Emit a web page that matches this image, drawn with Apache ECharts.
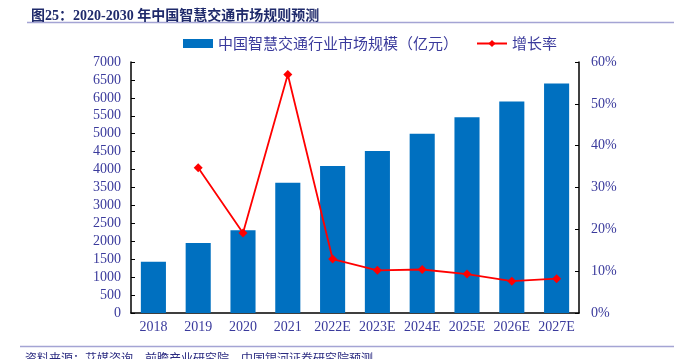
<!DOCTYPE html>
<html><head><meta charset="utf-8">
<script src="https://cdn.jsdelivr.net/npm/echarts@6/dist/echarts.min.js"></script>
<style>html,body{margin:0;padding:0;background:#fff}#c{width:674px;height:359px}</style>
</head><body><div id="c"></div>
<script>
const categories = ['2018','2019','2020','2021','2022E','2023E','2024E','2025E','2026E','2027E'];
const marketSize = [1430, 1950, 2310, 3630, 4100, 4520, 5000, 5460, 5900, 6400];
const growthRate = [null, 34.7, 19.1, 57.0, 12.9, 10.2, 10.4, 9.3, 7.6, 8.2];
const leftTicks = {min: 0, max: 7000, interval: 500};
const rightTicks = {min: 0, max: 60, interval: 10};
const titleText = '图25：2020-2030 年中国智慧交通市场规则预测';
const sourceText = '资料来源：艾媒咨询，前瞻产业研究院，中国银河证券研究院预测';
const seriesNames = ['中国智慧交通行业市场规模（亿元）', '增长率'];

const txt = '#3a3a9c';
const serif = "'Liberation Serif','Times New Roman','Noto Sans CJK SC',serif";
const chart = echarts.init(document.getElementById('c'));
chart.setOption({
  animation: false,
  title: [
    {text: titleText, left: 26, top: 4, textStyle: {fontSize: 14, fontWeight: 'bold', color: '#1f2a6b', fontFamily: "'Liberation Serif','Noto Sans CJK SC',serif"}},
    {text: sourceText, left: 20, top: 347, textStyle: {fontSize: 12, fontWeight: 'normal', color: '#2a2a80', fontFamily: "'Noto Sans CJK SC',sans-serif"}}
  ],
  graphic: [
    {type: 'line', shape: {x1: 27, y1: 22.5, x2: 674, y2: 22.5}, style: {stroke: '#a4a4d4', lineWidth: 1.5}},
    {type: 'line', shape: {x1: 20, y1: 346.5, x2: 674, y2: 346.5}, style: {stroke: '#a4a4d4', lineWidth: 1.5}}
  ],
  legend: {
    left: 178, top: 31, itemGap: 18, itemWidth: 30, itemHeight: 9,
    textStyle: {fontSize: 15, color: txt, fontFamily: "'Noto Sans CJK SC',sans-serif"},
    data: [
      {name: seriesNames[0], icon: 'rect'},
      {name: seriesNames[1]}
    ]
  },
  grid: {left: 131, right: 95, top: 62, bottom: 46},
  xAxis: {
    type: 'category', data: categories,
    axisLine: {lineStyle: {color: '#000', width: 1.5}},
    axisTick: {inside: true, length: 4, lineStyle: {color: '#000'}},
    axisLabel: {color: txt, fontSize: 14, fontFamily: serif, margin: 7, interval: 0, hideOverlap: false}
  },
  yAxis: [
    {type: 'value', min: leftTicks.min, max: leftTicks.max, interval: leftTicks.interval,
     splitLine: {show: false},
     axisLine: {show: true, lineStyle: {color: '#000', width: 1.5}},
     axisTick: {show: true, inside: true, length: 4, lineStyle: {color: '#000'}},
     axisLabel: {color: txt, fontSize: 14, fontFamily: serif, margin: 10, formatter: v => String(v)}},
    {type: 'value', min: rightTicks.min, max: rightTicks.max, interval: rightTicks.interval,
     splitLine: {show: false},
     axisLine: {show: true, lineStyle: {color: '#000', width: 1.5}},
     axisTick: {show: true, inside: true, length: 4, lineStyle: {color: '#000'}},
     axisLabel: {color: txt, fontSize: 14, fontFamily: serif, margin: 12, formatter: '{value}%'}}
  ],
  series: [
    {name: seriesNames[0], type: 'bar', data: marketSize, barWidth: '56%',
     itemStyle: {color: '#0070C0'}},
    {name: seriesNames[1], type: 'line', yAxisIndex: 1, data: growthRate,
     symbol: 'diamond', symbolSize: 9, connectNulls: false,
     lineStyle: {color: '#FF0000', width: 1.8}, itemStyle: {color: '#FF0000'}}
  ]
});
</script></body></html>
